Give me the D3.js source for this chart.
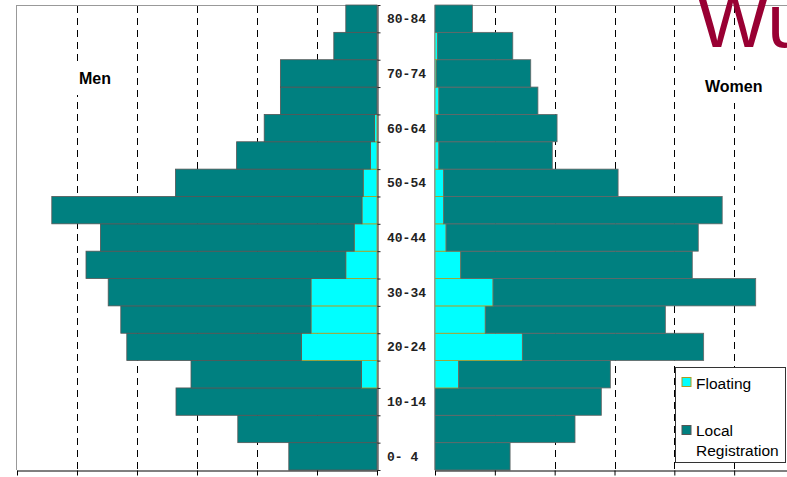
<!DOCTYPE html>
<html><head><meta charset="utf-8">
<script src="https://cdn.jsdelivr.net/npm/d3@7"></script>
<style>html,body{margin:0;padding:0;background:#fff;}svg{display:block;}</style>
</head><body>
<svg id="c" width="787" height="477"></svg>
<script>
const ages = ["0-4","5-9","10-14","15-19","20-24","25-29","30-34","35-39","40-44","45-49","50-54","55-59","60-64","65-69","70-74","75-79","80-84"];
const ageLabels = ["0- 4","","10-14","","20-24","","30-34","","40-44","","50-54","","60-64","","70-74","","80-84"];
const menFloating = [0,0,0,2.6,12.6,11.0,11.0,5.2,3.8,2.5,2.3,1.1,0.4,0,0,0,0];
const menLocal = [14.7,23.2,33.5,28.4,29.1,31.7,33.8,43.3,42.3,51.7,31.3,22.3,18.4,16.1,16.1,7.2,5.2];
const womenFloating = [0,0,0,3.95,14.6,8.4,9.7,4.3,1.85,1.45,1.45,0.65,0.2,0.65,0.2,0.4,0];
const womenLocal = [12.55,23.4,27.8,25.35,30.3,30.1,43.9,38.7,42.15,46.55,29.15,18.95,20.2,16.55,15.8,12.6,6.25];
const gridValues = [10,20,30,40,50];
const axisTicks = [0,10,20,30,40,50,60];
const seriesNames = ["Floating","Local Registration"];

(function(){
const svg = d3.select("#c");
const yTop = 5, yBot = 470;
const y = d3.scaleBand().domain(ages.slice().reverse()).range([yTop, yBot]).padding(0);
const yIdx = d3.scaleLinear().domain([0, ages.length]).range([yBot, yTop]);
const xL = d3.scaleLinear().domain([0,60]).range([377,17]);
const xR = d3.scaleLinear().domain([0,60]).range([435,794]);

const COL_LOCAL = "#008080", COL_FLOAT = "#00ffff";

// frames (gray)
svg.append("line").attr("x1",xL(60)-0.5).attr("x2",xL(0)).attr("y1",yTop+0.5).attr("y2",yTop+0.5).attr("stroke","#999");
svg.append("line").attr("x1",xL(60)-0.5).attr("x2",xL(60)-0.5).attr("y1",yTop).attr("y2",yBot).attr("stroke","#999");
svg.append("line").attr("x1",xR(0)).attr("x2",787).attr("y1",yTop+0.5).attr("y2",yTop+0.5).attr("stroke","#999");

// gridlines
const gl = svg.append("g").attr("stroke","#000").attr("stroke-dasharray","7,5").attr("stroke-width",1);
gl.selectAll("line.l").data(gridValues).join("line").attr("class","l")
  .attr("x1",d=>Math.round(xL(d))+0.5).attr("x2",d=>Math.round(xL(d))+0.5).attr("y1",yTop+1).attr("y2",yBot);
gl.selectAll("line.r").data(gridValues).join("line").attr("class","r")
  .attr("x1",d=>Math.round(xR(d))+0.5).attr("x2",d=>Math.round(xR(d))+0.5).attr("y1",yTop+1).attr("y2",yBot);

// labels Men / Women with white background
function boxLabel(x, yb, txt){
  const g = svg.append("g");
  const r = g.append("rect").attr("fill","#fff");
  const t = g.append("text").attr("x",x).attr("y",yb).attr("font-family","Liberation Sans, Arial, sans-serif")
    .attr("font-weight","bold").attr("font-size",16).attr("fill","#000").text(txt);
  const b = t.node().getBBox();
  r.attr("x",b.x-3).attr("y",b.y-8).attr("width",b.width+6).attr("height",b.height+16);
}
boxLabel(79, 84, "Men");
boxLabel(705, 92, "Women");

// Men bars
const gm = svg.append("g");
ages.forEach((a,i)=>{
  const f = menFloating[i], l = menLocal[i];
  if (f > 0) gm.append("rect").attr("x",xL(f)).attr("y",y(a)).attr("width",xL(0)-xL(f)).attr("height",y.bandwidth())
    .attr("fill",COL_FLOAT).attr("stroke","#b09a20").attr("stroke-width",0.8);
  gm.append("rect").attr("x",xL(f+l)).attr("y",y(a)).attr("width",xL(f)-xL(f+l)).attr("height",y.bandwidth())
    .attr("fill",COL_LOCAL).attr("stroke","#555").attr("stroke-width",0.8);
});
// Women bars
const gw = svg.append("g");
ages.forEach((a,i)=>{
  const f = womenFloating[i], l = womenLocal[i];
  if (f > 0) gw.append("rect").attr("x",xR(0)).attr("y",y(a)).attr("width",xR(f)-xR(0)).attr("height",y.bandwidth())
    .attr("fill",COL_FLOAT).attr("stroke","#b09a20").attr("stroke-width",0.8);
  gw.append("rect").attr("x",xR(f)).attr("y",y(a)).attr("width",xR(f+l)-xR(f)).attr("height",y.bandwidth())
    .attr("fill",COL_LOCAL).attr("stroke","#666").attr("stroke-width",0.8);
});

// vertical axes
const axL = svg.append("g").attr("transform",`translate(${xL(0)+0.5},0)`)
  .call(d3.axisRight(yIdx).tickValues(d3.range(0, ages.length+1)).tickFormat("").tickSize(3).tickSizeOuter(0));
axL.selectAll("path,line").attr("stroke","#222");
svg.append("line").attr("x1",xR(0)-0.5).attr("x2",xR(0)-0.5).attr("y1",yTop).attr("y2",yBot).attr("stroke","#999");

// bottom axes
const bL = svg.append("g").attr("transform",`translate(0,${yBot+0.5})`)
  .call(d3.axisBottom(xL).tickValues(axisTicks).tickFormat("").tickSize(5).tickSizeOuter(0));
bL.selectAll("path,line").attr("stroke","#000");
const bR = svg.append("g").attr("transform",`translate(0,${yBot+0.5})`)
  .call(d3.axisBottom(xR).tickValues(axisTicks).tickFormat("").tickSize(5).tickSizeOuter(0));
bR.selectAll("path,line").attr("stroke","#000");

// age labels
svg.append("g").selectAll("text").data(ages.map((a,i)=>({a, lab: ageLabels[i]})).filter(d=>d.lab))
  .join("text").attr("x",387).attr("y",d=>y(d.a)+y.bandwidth()/2).attr("dy","0.35em")
  .attr("font-family","Liberation Mono, Courier New, monospace").attr("font-weight","bold").attr("font-size",13)
  .attr("fill","#222").style("white-space","pre").text(d=>d.lab);

// legend
const lg = svg.append("g");
lg.append("rect").attr("x",675.5).attr("y",367.5).attr("width",110).attr("height",95).attr("fill","#fff").attr("stroke","#333");
lg.append("rect").attr("x",682).attr("y",377.5).attr("width",9).attr("height",9).attr("fill",COL_FLOAT).attr("stroke","#b09a20");
lg.append("rect").attr("x",682).attr("y",425.5).attr("width",9).attr("height",9).attr("fill",COL_LOCAL).attr("stroke","#555");
function lt(x,yb,t){lg.append("text").attr("x",x).attr("y",yb).attr("font-family","Liberation Sans, Arial, sans-serif")
  .attr("font-size",15.5).attr("fill","#000").text(t);}
lt(696,389,seriesNames[0]);
lt(696,436,"Local");
lt(696,456,"Registration");

// clipped title (cut off by the top and right edges, as in the reference)
svg.append("text").attr("x",697).attr("y",47).attr("font-family","Liberation Sans, Arial, sans-serif")
  .attr("font-size",76).attr("fill","#990033").text("Wu");
})();
</script>
</body></html>
